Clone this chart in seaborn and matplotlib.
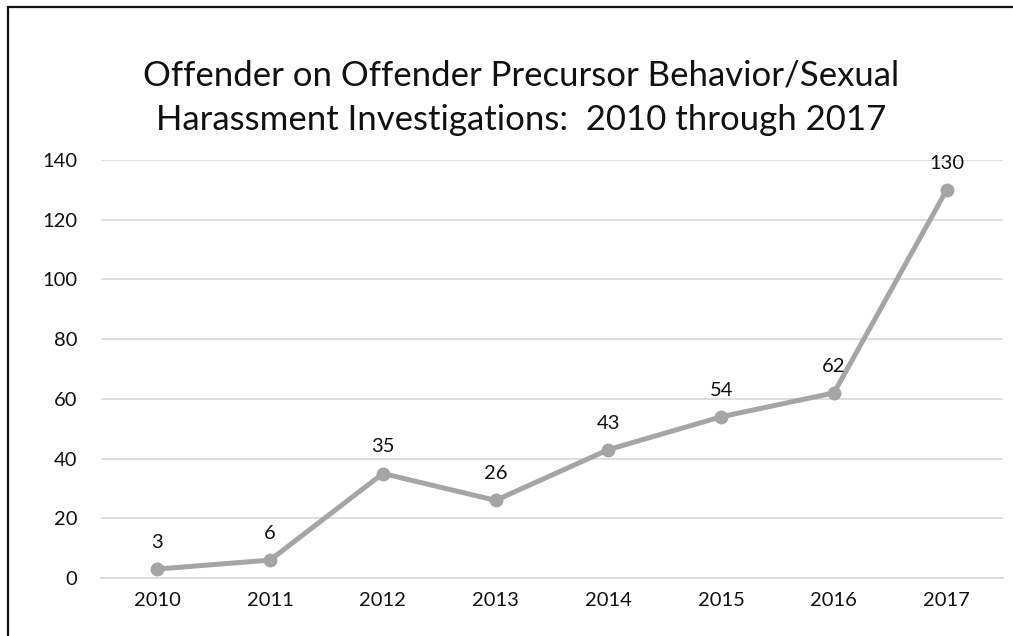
import numpy as np
import pandas as pd
import matplotlib
matplotlib.use("Agg")
import matplotlib.pyplot as plt
import seaborn as sns
from matplotlib.lines import Line2D

years = ["2010", "2011", "2012", "2013", "2014", "2015", "2016", "2017"]
counts = [3, 6, 35, 26, 43, 54, 62, 130]
yticks = [0, 20, 40, 60, 80, 100, 120, 140]

title = "Offender on Offender Precursor Behavior/Sexual\nHarassment Investigations:  2010 through 2017"

sns.set_theme(style="white")
plt.rcParams['font.family'] = ['Lato', 'DejaVu Sans']

df = pd.DataFrame({"year": years, "count": counts})

fig = plt.figure(figsize=(10.13, 6.36), dpi=100)
ax = fig.add_axes([0.0997, 0.0912, 0.8905, 0.6572])

sns.lineplot(data=df, x="year", y="count", ax=ax, color="#A5A5A5",
             linewidth=3.6, marker="o", markersize=10, markeredgewidth=0,
             sort=False)

for i, v in enumerate(counts):
    ax.annotate(str(v), (i, v), xytext=(0, 13), textcoords="offset points",
                ha="center", va="bottom", fontsize=14.5, color="#111111")

ax.set_xlim(-0.5, len(years) - 0.5)
ax.set_ylim(0, 140)
ax.set_yticks(yticks)
ax.set_yticklabels([str(t) for t in yticks])
ax.grid(axis="y", color="#D9D9D9", linewidth=1.2)
ax.grid(axis="x", visible=False)
ax.set_axisbelow(True)
for s in ["top", "right", "left"]:
    ax.spines[s].set_visible(False)
ax.spines["bottom"].set_color("#D9D9D9")
ax.spines["bottom"].set_linewidth(1.2)
ax.tick_params(axis="both", length=0, labelsize=14.5, colors="#111111")
ax.tick_params(axis="y", pad=17)
ax.tick_params(axis="x", pad=10)
ax.set_xlabel("")
ax.set_ylabel("")

fig.text(0.514, 0.846, title, ha="center", va="center", fontsize=25,
         color="#111111", linespacing=1.5)

# frame around the chart (top and left edges visible in the source)
fig.add_artist(Line2D([8 / 1013, 8 / 1013], [0, 1 - 7 / 636], color="#111111",
                      linewidth=1.6, transform=fig.transFigure))
fig.add_artist(Line2D([8 / 1013, 1], [1 - 7 / 636, 1 - 7 / 636], color="#111111",
                      linewidth=1.6, transform=fig.transFigure))

fig.savefig("out.png", dpi=100)
